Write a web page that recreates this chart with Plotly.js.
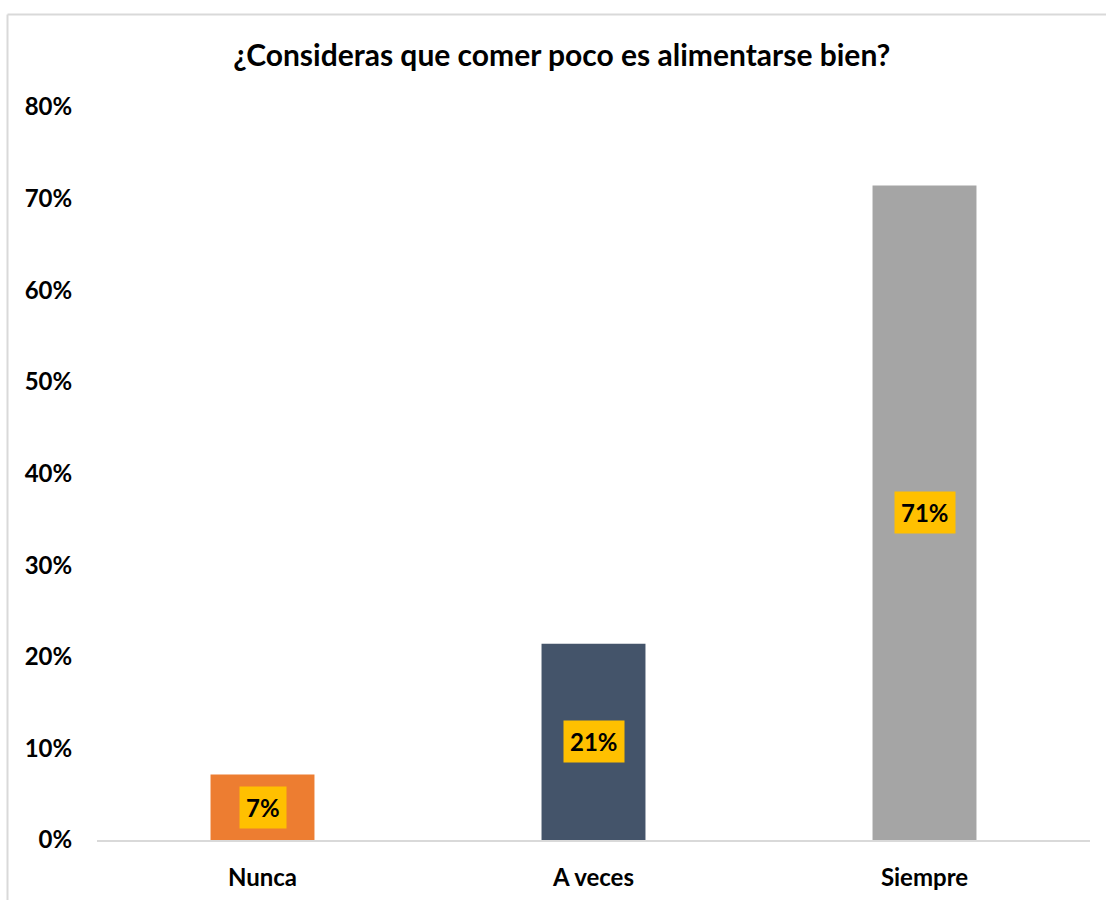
<!DOCTYPE html>
<html>
<head>
<meta charset="utf-8">
<script src="https://cdn.plot.ly/plotly-3.0.1.min.js"></script>
<style>html,body{margin:0;padding:0;background:#fff;}#chart{width:1106px;height:900px;}</style>
</head>
<body>
<div id="chart"></div>
<script>
const categories = ["Nunca", "A veces", "Siempre"];
const values = [0.0714, 0.2143, 0.7143];
const labels = ["7%", "21%", "71%"];
const barColors = ["#ED7D31", "#44546A", "#A5A5A5"];
const yTickVals = [0, 0.1, 0.2, 0.3, 0.4, 0.5, 0.6, 0.7, 0.8];
const yTickText = ["0%", "10%", "20%", "30%", "40%", "50%", "60%", "70%", "80%"];

const FONT = "Lato, 'Open Sans', 'DejaVu Sans', sans-serif";

const trace = {
  type: "bar",
  x: categories,
  y: values,
  marker: { color: barColors },
  hoverinfo: "skip"
};

const annotations = categories.map((c, i) => ({
  x: c, y: values[i] / 2, xref: "x", yref: "y",
  text: "<b>" + labels[i] + "</b>",
  showarrow: false,
  bgcolor: "#FFC000",
  borderpad: 6,
  font: { family: FONT, size: 24, color: "#000" }
}));

const border = "#D9D9D9";
const layout = {
  width: 1106, height: 900,
  margin: { l: 97, r: 16, t: 107, b: 60 },
  paper_bgcolor: "#fff", plot_bgcolor: "#fff",
  showlegend: false,
  bargap: 0.686,
  title: {
    text: "<b>¿Consideras que comer poco es alimentarse bien?</b>",
    x: 0.508, xref: "container", xanchor: "center",
    y: 1 - 55 / 900, yref: "container", yanchor: "middle",
    font: { family: FONT, size: 30, color: "#000" }
  },
  xaxis: {
    showgrid: false, zeroline: false,
    showline: true, linecolor: border, linewidth: 2,
    ticks: "outside", ticklen: 15, tickcolor: "rgba(0,0,0,0)",
    tickfont: { family: FONT, size: 24, color: "#000", weight: "bold" }
  },
  yaxis: {
    range: [0, 0.8],
    tickvals: yTickVals, ticktext: yTickText,
    showgrid: false, zeroline: false, showline: false,
    ticks: "outside", ticklen: 19, tickcolor: "rgba(0,0,0,0)",
    tickfont: { family: FONT, size: 24, color: "#000", weight: "bold" }
  },
  annotations: annotations,
  shapes: [
    { type: "line", xref: "paper", yref: "paper",
      x0: (7.5 - 97) / 993, x1: (7.5 - 97) / 993,
      y0: (840 - 14.5) / 733, y1: (840 - 910) / 733,
      line: { color: border, width: 2 } },
    { type: "line", xref: "paper", yref: "paper",
      x0: (7.5 - 97) / 993, x1: (1110 - 97) / 993,
      y0: (840 - 14.5) / 733, y1: (840 - 14.5) / 733,
      line: { color: border, width: 2 } }
  ]
};

Plotly.newPlot("chart", [trace], layout, { displayModeBar: false, staticPlot: true });
</script>
</body>
</html>
